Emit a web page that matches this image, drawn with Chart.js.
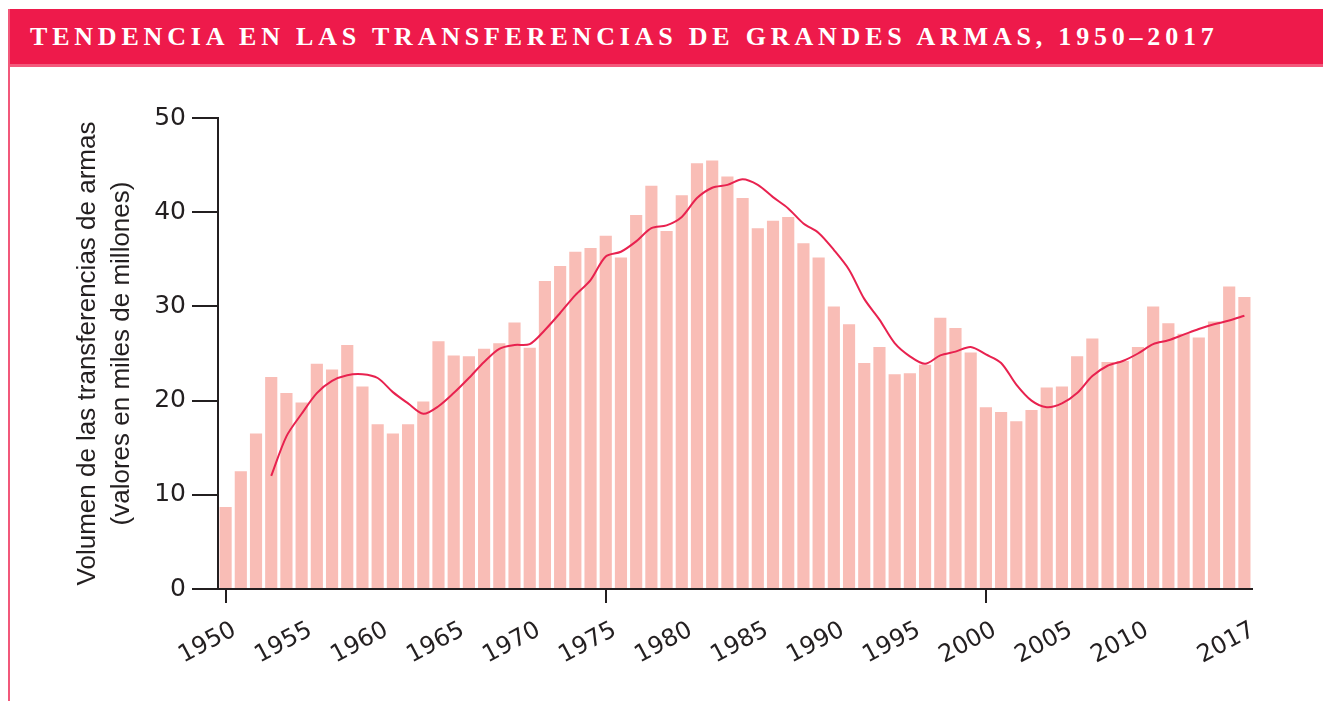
<!DOCTYPE html>
<html lang="es">
<head>
<meta charset="utf-8">
<title>Tendencia en las transferencias de grandes armas</title>
<script src="https://cdn.jsdelivr.net/npm/chart.js@4.4.1/dist/chart.umd.min.js"></script>
<style>
    html, body { margin: 0; padding: 0; background: #fff; }
    body { width: 1323px; height: 701px; position: relative; overflow: hidden; }
    #marco {
        position: absolute; left: 8px; top: 9px; right: 0; bottom: 0;
        border-left: 2px solid #f2587a;
    }
    #titulo {
        height: 55px; background: #ee1a4b; border-bottom: 3px solid #f35a7c;
        display: flex; align-items: center; padding-left: 20px;
        color: #fff; font-family: "Liberation Serif", serif; font-weight: bold;
        font-size: 26px; letter-spacing: 4.8px; white-space: nowrap;
    }
    #grafico { position: absolute; left: 0; top: 0; }
</style>
</head>
<body>
<div id="marco"><div id="titulo">TENDENCIA EN LAS TRANSFERENCIAS DE GRANDES ARMAS, 1950–2017</div></div>
<canvas id="grafico" width="1323" height="701"></canvas>
<script>
// años 1950-2017
const anios = [];
for (let a = 1950; a <= 2017; a++) anios.push(String(a));

// etiquetas que se ven en el eje x
const aniosEje = ['1950', '1955', '1960', '1965', '1970', '1975', '1980', '1985',
    '1990', '1995', '2000', '2005', '2010', '2017'];

const volumen = [
    8.7, 12.5, 16.5, 22.5, 20.8, 19.8, 23.9, 23.3, 25.9, 21.5,   // 1950-59
    17.5, 16.5, 17.5, 19.9, 26.3, 24.8, 24.7, 25.5, 26.1, 28.3,  // 1960-69
    25.6, 32.7, 34.3, 35.8, 36.2, 37.5, 35.2, 39.7, 42.8, 38.0,  // 1970-79
    41.8, 45.2, 45.5, 43.8, 41.5, 38.3, 39.1, 39.5, 36.7, 35.2,  // 1980-89
    30.0, 28.1, 24.0, 25.7, 22.8, 22.9, 23.8, 28.8, 27.7, 25.1,  // 1990-99
    19.3, 18.8, 17.8, 19.0, 21.4, 21.5, 24.7, 26.6, 24.1, 24.2,  // 2000-09
    25.7, 30.0, 28.2, 27.1, 26.7, 28.4, 32.1, 31.0               // 2010-17
];

// linea de tendencia (empieza en 1953)
const tendencia = [
    null, null, null, 12.0, 16.2, 18.6, 20.8, 22.1, 22.7, 22.8,
    22.4, 20.9, 19.7, 18.6, 19.4, 20.8, 22.4, 24.1, 25.5, 25.9,
    26.0, 27.5, 29.3, 31.2, 32.8, 35.3, 35.8, 36.9, 38.3, 38.6,
    39.5, 41.5, 42.6, 42.9, 43.5, 42.9, 41.6, 40.4, 38.8, 37.8,
    36.0, 33.9, 30.8, 28.6, 26.1, 24.7, 23.9, 24.8, 25.2, 25.7,
    24.9, 24.0, 21.7, 20.0, 19.3, 19.7, 20.8, 22.6, 23.7, 24.2,
    25.0, 26.0, 26.4, 27.0, 27.6, 28.1, 28.5, 29.0
];

const tituloEjeY = ['Volumen de las transferencias de armas', '(valores en miles de millones)'];

const negro = '#231f20';
const fuente = 'Liberation Sans, Arial, sans-serif';
const fuenteTicks = 'DejaVu Sans, sans-serif';

new Chart(document.getElementById('grafico'), {
    type: 'bar',
    data: {
        labels: anios,
        datasets: [
            {
                type: 'line',
                data: tendencia,
                borderColor: '#e8224f',
                borderWidth: 2,
                pointRadius: 0,
                tension: 0.3,
                order: 0
            },
            {
                data: volumen,
                backgroundColor: '#f9bdb6',
                barPercentage: 0.8,
                categoryPercentage: 1,
                order: 1
            }
        ]
    },
    options: {
        responsive: false,
        animation: false,
        layout: { padding: { top: 118, right: 71, left: 0, bottom: 0 } },
        plugins: { legend: { display: false }, tooltip: { enabled: false } },
        scales: {
            x: {
                offset: true,
                grid: {
                    offset: false,
                    drawOnChartArea: false,
                    tickLength: 14,
                    lineWidth: 2,
                    color: ctx => aniosEje.includes(anios[ctx.index]) ? negro : 'rgba(0,0,0,0)'
                },
                border: { display: true, color: negro, width: 2 },
                ticks: {
                    autoSkip: false,
                    minRotation: 28,
                    maxRotation: 28,
                    labelOffset: 9,
                    padding: 13,
                    color: negro,
                    font: { family: fuenteTicks, size: 24 },
                    callback: (v, i) => aniosEje.includes(anios[i]) ? anios[i] : null
                },
                afterFit: s => { s.height = 701 - 589; }
            },
            y: {
                min: 0,
                max: 50,
                grid: { drawOnChartArea: false, tickLength: 26, lineWidth: 2, color: negro },
                border: { display: true, color: negro, width: 2 },
                ticks: { stepSize: 10, padding: 6, color: negro, font: { family: fuenteTicks, size: 25 } },
                title: {
                    display: true,
                    text: tituloEjeY,
                    color: negro,
                    font: { family: fuente, size: 26, lineHeight: 1.3 },
                    padding: { top: 71, bottom: 0 }
                },
                afterFit: s => { s.width = 218; }
            }
        }
    }
});
</script>
</body>
</html>
